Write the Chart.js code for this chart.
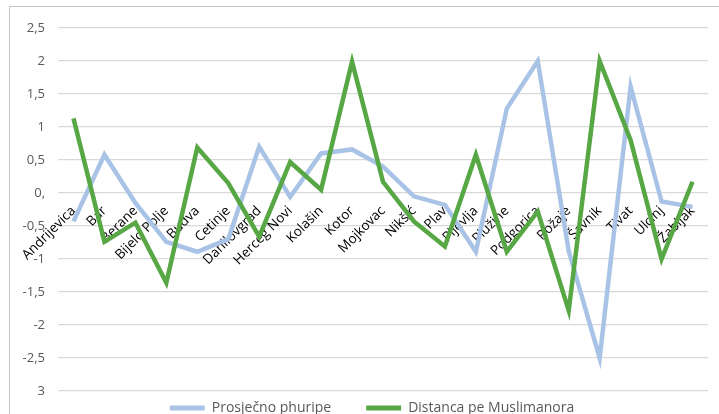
<!DOCTYPE html>
<html>
<head>
<meta charset="utf-8">
<script src="https://cdn.jsdelivr.net/npm/chart.js@4"></script>
<style>
  html, body { margin: 0; padding: 0; background: #fff; overflow: hidden; width: 719px; height: 414px; }
  #frame { position: absolute; left: 9px; top: 6px; width: 800px; height: 500px; border-left: 1.5px solid #c4c4c4; border-top: 1.5px solid #c4c4c4; }
  #wrap { position: absolute; left: 0; top: 0; width: 719px; height: 450px; }
</style>
</head>
<body>
<div id="frame"></div>
<div id="wrap"><canvas id="c" width="719" height="450"></canvas></div>
<script>
const categories = ["Andrijevica","Bar","Berane","Bijelo Polje","Budva","Cetinje","Danilovgrad","Herceg Novi","Kolašin","Kotor","Mojkovac","Nikšić","Plav","Pljevlja","Plužine","Podgorica","Rožaje","Šavnik","Tivat","Ulcinj","Žabljak"];
const seriesNames = ["Prosječno phuripe", "Distanca pe Muslimanora"];
const prosjecnoPhuripe = [-0.43, 0.58, -0.15, -0.74, -0.89, -0.7, 0.7, -0.06, 0.6, 0.66, 0.4, -0.05, -0.18, -0.89, 1.28, 2.0, -0.88, -2.5, 1.61, -0.13, -0.21];
const distancaPeMuslimanora = [1.13, -0.74, -0.45, -1.36, 0.69, 0.15, -0.66, 0.47, 0.05, 1.99, 0.17, -0.43, -0.81, 0.58, -0.89, -0.28, -1.78, 2.0, 0.8, -1.0, 0.17];
const yTickLabels = ["3","-2,5","-2","-1,5","-1","-0,5","0,","0,5","1","1,5","2","2,5"];

const legendShift = { x: 18, y: -25 };
const shiftLegend = {
  id: 'shiftLegend',
  afterLayout(chart) {
    const l = chart.legend;
    if (!l) return;
    l.top += legendShift.y; l.bottom += legendShift.y;
    l.left += legendShift.x; l.right += legendShift.x;
  }
};

new Chart(document.getElementById('c'), {
  type: 'line',
  data: {
    labels: categories,
    datasets: [
      { label: seriesNames[0], data: prosjecnoPhuripe, borderColor: '#a9c3e6', backgroundColor: '#a9c3e6', borderWidth: 4.5, pointRadius: 0, tension: 0, order: 1 },
      { label: seriesNames[1], data: distancaPeMuslimanora, borderColor: '#57a745', backgroundColor: '#57a745', borderWidth: 4.5, pointRadius: 0, tension: 0, order: 0 }
    ]
  },
  options: {
    responsive: false,
    animation: false,
    layout: { padding: { left: 0, top: 28, right: 11, bottom: 0 } },
    plugins: {
      tooltip: { enabled: false },
      legend: {
        position: 'bottom',
        labels: {
          padding: 35,
          boxWidth: 35,
          boxHeight: 5,
          color: '#595959',
          font: { family: 'Open Sans', size: 14 },
          generateLabels(chart) {
            return chart.data.datasets.map((ds, i) => ({
              text: ds.label, fillStyle: ds.borderColor, strokeStyle: ds.borderColor,
              lineWidth: 0, hidden: false, datasetIndex: i, fontColor: '#595959'
            }));
          }
        }
      }
    },
    scales: {
      x: {
        type: 'category',
        position: { y: 0 },
        offset: true,
        grid: { display: false },
        border: { display: false },
        ticks: { autoSkip: false, minRotation: 45, maxRotation: 45, color: '#000', padding: 2, font: { family: 'Open Sans', size: 13.5 } }
      },
      y: {
        min: -3, max: 2.5,
        afterFit(scale) { scale.width = 58; },
        grid: { color: '#d9d9d9', lineWidth: 1.3, drawTicks: false },
        border: { display: false },
        ticks: {
          stepSize: 0.5, padding: 13, color: '#595959',
          font: { family: 'Open Sans', size: 13 },
          callback(value, index) { return yTickLabels[index]; }
        }
      }
    }
  },
  plugins: [shiftLegend]
});
</script>
</body>
</html>
